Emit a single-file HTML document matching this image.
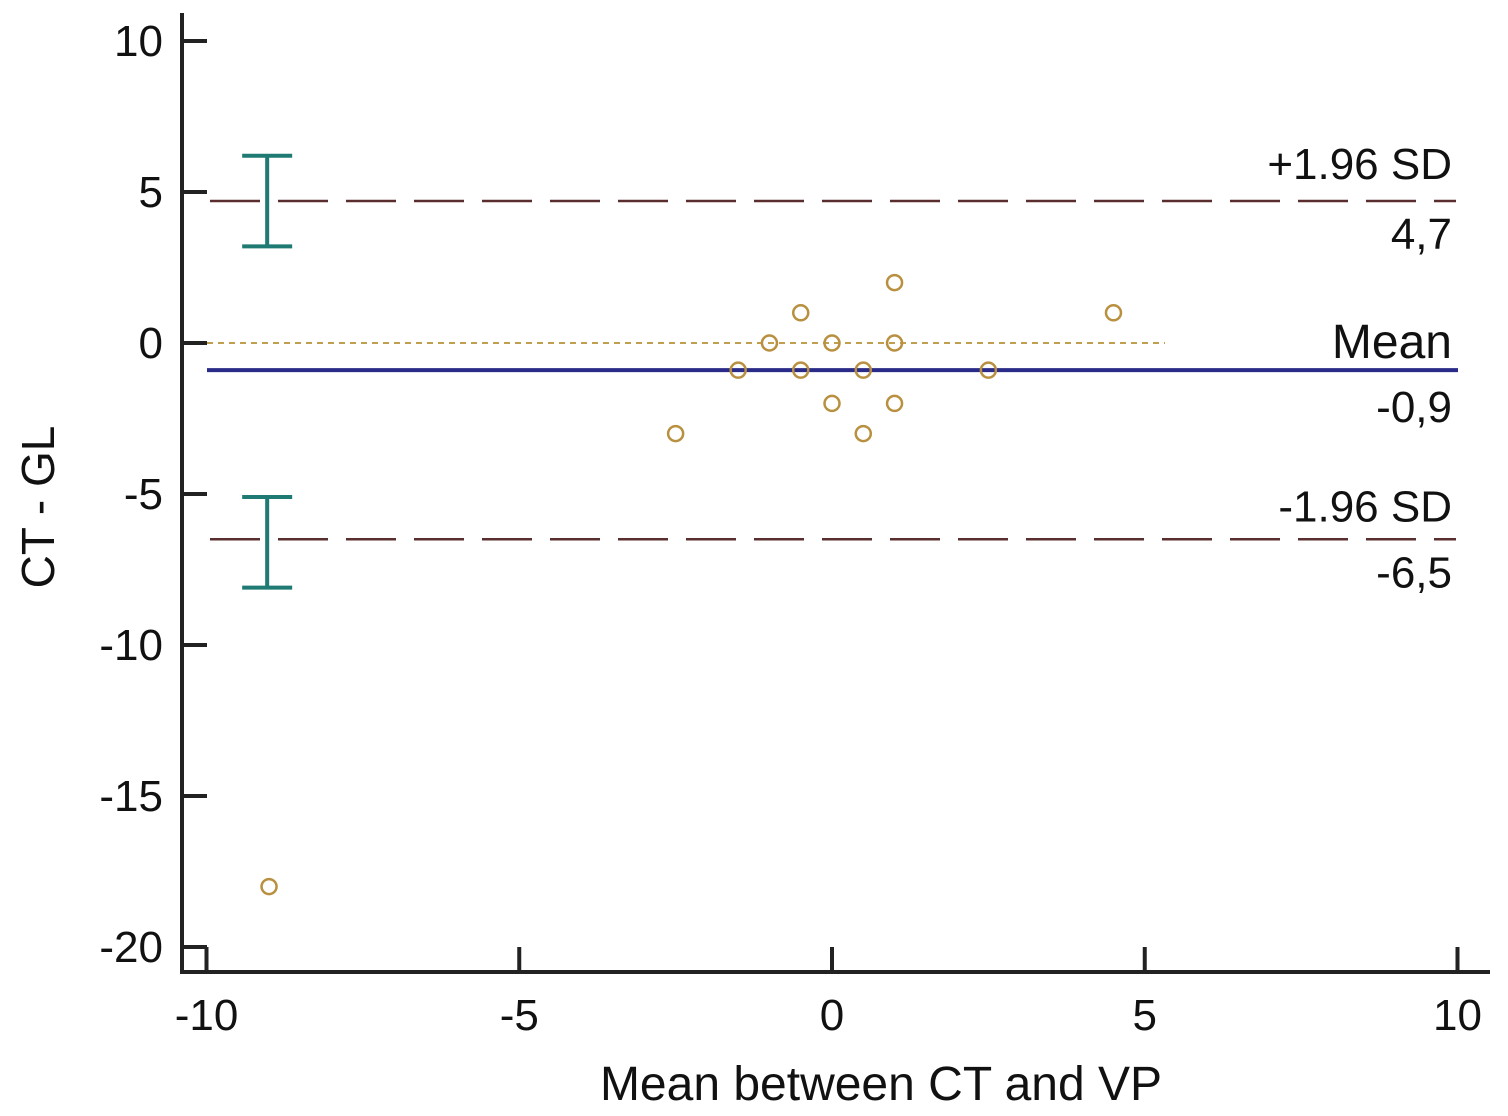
<!DOCTYPE html>
<html><head><meta charset="utf-8"><style>
html,body{margin:0;padding:0;background:#fff;}
svg{display:block;font-family:"Liberation Sans",Arial,sans-serif;}
</style></head><body>
<svg id="chart" width="1508" height="1116" viewBox="0 0 1508 1116">
<g id="g"></g>
</svg>
<script>
const xTicks=[-10,-5,0,5,10];
const yTicks=[10,5,0,-5,-10,-15,-20];
const ptX=[-9,-2.5,-1.5,-1,-0.5,-0.5,0,0,0.5,0.5,1,1,1,2.5,4.5];
const ptY=[-18,-3,-0.9,0,1,-0.9,0,-2,-0.9,-3,2,0,-2,-0.9,1];
const meanVal=[-0.9];
const upperVal=[4.7];
const lowerVal=[-6.5];
const upperCI=[3.2,6.2];
const lowerCI=[-8.1,-5.1];
const labels={upper:"4,7",mean:"-0,9",lower:"-6,5"};

const X=v=>832+v*62.55;
const Y=v=>343-v*30.2;
const NS="http://www.w3.org/2000/svg";
const g=document.getElementById('g');
function mk(tag,attrs,name,text){const e=document.createElementNS(NS,tag);for(const k in attrs)e.setAttribute(k,attrs[k]);


if(text!==undefined)e.textContent=text;g.appendChild(e);return e;}

// axes
mk('line',{x1:182,y1:13,x2:182,y2:973,stroke:'#222','stroke-width':4},'y-axis');
mk('line',{x1:180,y1:972,x2:1490,y2:972,stroke:'#222','stroke-width':4},'x-axis');
yTicks.forEach(t=>{
  mk('line',{x1:182,y1:Y(t),x2:207,y2:Y(t),stroke:'#222','stroke-width':4},'y-tick');
  mk('text',{x:163,y:Y(t)+15,'text-anchor':'end','font-size':44,fill:'#111'},'y-tick-label',String(t));
});
xTicks.forEach(t=>{
  mk('line',{x1:X(t),y1:972,x2:X(t),y2:947,stroke:'#222','stroke-width':4},'x-tick');
  mk('text',{x:X(t),y:1030,'text-anchor':'middle','font-size':44,fill:'#111'},'x-tick-label',String(t));
});
mk('text',{x:881,y:1100,'text-anchor':'middle','font-size':48,fill:'#111'},'x-axis-title','Mean between CT and VP');
mk('text',{x:0,y:0,'text-anchor':'middle','font-size':46,fill:'#111',transform:'translate(54,507) rotate(-90)'},'y-axis-title','CT - GL');

// zero reference
mk('line',{x1:207,y1:Y(0),x2:1165,y2:Y(0),stroke:'#c0a050','stroke-width':2,'stroke-dasharray':'6,5'},'zero-line');
// limits
mk('line',{x1:210,y1:Y(upperVal[0]),x2:1456,y2:Y(upperVal[0]),stroke:'#5a2e2e','stroke-width':2.5,'stroke-dasharray':'50,18'},'upper-limit-line');
mk('line',{x1:210,y1:Y(lowerVal[0]),x2:1456,y2:Y(lowerVal[0]),stroke:'#5a2e2e','stroke-width':2.5,'stroke-dasharray':'50,18'},'lower-limit-line');
mk('line',{x1:207,y1:Y(meanVal[0]),x2:1458,y2:Y(meanVal[0]),stroke:'#2a2a88','stroke-width':4},'mean-line');

// CI bars
[[upperCI,'upper-ci-bar'],[lowerCI,'lower-ci-bar']].forEach(([ci,n])=>{
  const cx=X(-9.03);
  mk('line',{x1:cx,y1:Y(ci[0]),x2:cx,y2:Y(ci[1]),stroke:'#1e7a72','stroke-width':4},n);
  mk('line',{x1:cx-25,y1:Y(ci[0]),x2:cx+25,y2:Y(ci[0]),stroke:'#1e7a72','stroke-width':4},n+'-cap');
  mk('line',{x1:cx-25,y1:Y(ci[1]),x2:cx+25,y2:Y(ci[1]),stroke:'#1e7a72','stroke-width':4},n+'-cap');
});

// points
ptX.forEach((v,i)=>{
  mk('circle',{cx:X(v),cy:Y(ptY[i]),r:7.5,fill:'none',stroke:'#b89040','stroke-width':2.5},'data-point');
});

// labels
mk('text',{x:1452,y:Y(upperVal[0])-22,'text-anchor':'end','font-size':44,fill:'#111'},'upper-limit-label','+1.96 SD');
mk('text',{x:1452,y:Y(upperVal[0])+48,'text-anchor':'end','font-size':44,fill:'#111'},'upper-limit-value',labels.upper);
mk('text',{x:1452,y:Y(meanVal[0])-12,'text-anchor':'end','font-size':48,fill:'#111'},'mean-label','Mean');
mk('text',{x:1452,y:Y(meanVal[0])+52,'text-anchor':'end','font-size':44,fill:'#111'},'mean-value',labels.mean);
mk('text',{x:1452,y:Y(lowerVal[0])-18,'text-anchor':'end','font-size':44,fill:'#111'},'lower-limit-label','-1.96 SD');
mk('text',{x:1452,y:Y(lowerVal[0])+48,'text-anchor':'end','font-size':44,fill:'#111'},'lower-limit-value',labels.lower);
</script>
</body></html>
